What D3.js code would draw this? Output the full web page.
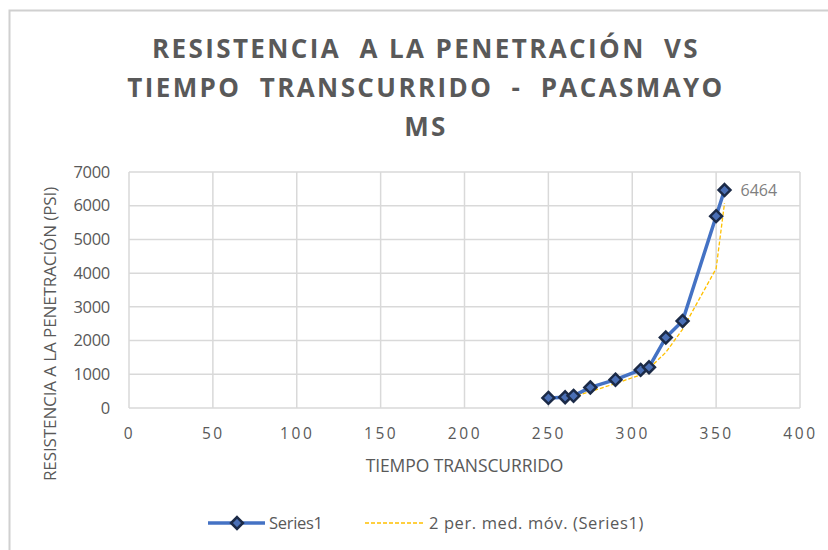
<!DOCTYPE html>
<html>
<head>
<meta charset="utf-8">
<script src="https://cdn.jsdelivr.net/npm/d3@7"></script>
<style>
  body { margin: 0; background: #fff; }
  text { font-family: "Open Sans", "Liberation Sans", sans-serif; }
</style>
</head>
<body>
<div id="chart"></div>
<script>
// Data
let tiempo = [250, 260, 265, 275, 290, 305, 310, 320, 330, 350, 355];
let resistencia = [300, 320, 360, 610, 840, 1130, 1210, 2090, 2580, 5690, 6464];

// 2 period moving average (Excel trendline), starts at second point
let mediaTiempo = [260, 265, 275, 290, 305, 310, 320, 330, 350, 355];
let mediaValor = [310, 340, 485, 725, 985, 1170, 1650, 2335, 4135, 6077];

let xTicks = [0, 50, 100, 150, 200, 250, 300, 350, 400];
let yTicks = [0, 1000, 2000, 3000, 4000, 5000, 6000, 7000];

let titleLines = ["RESISTENCIA  A LA PENETRACIÓN  VS", "TIEMPO  TRANSCURRIDO  -  PACASMAYO", "MS"];

let width = 828;
let height = 550;
let margin = {left: 129, right: 28, top: 172, bottom: 142};

let svg = d3.select('#chart')
            .append('svg')
            .attr('width', width)
            .attr('height', height);

// outer chart border
svg.append("rect")
    .attr("x", 9.5).attr("y", 10.5)
    .attr("width", width + 10).attr("height", height + 10)
    .attr("fill", "none")
    .attr("stroke", "#d0d0d0")
    .attr("stroke-width", 2);

let xScale = d3.scaleLinear()
                .domain([0, 400])
                .range([margin.left, width - margin.right]);

let yScale = d3.scaleLinear()
                .domain([0, 7000])
                .range([height - margin.bottom, margin.top]);

// gridlines
svg.append("g")
    .selectAll("line")
    .data(xTicks)
    .enter()
    .append("line")
    .attr("x1", d => xScale(d)).attr("x2", d => xScale(d))
    .attr("y1", yScale(0)).attr("y2", yScale(7000))
    .attr("stroke", "#d9d9d9")
    .attr("stroke-width", 1.5);

svg.append("g")
    .selectAll("line")
    .data(yTicks)
    .enter()
    .append("line")
    .attr("x1", xScale(0)).attr("x2", xScale(400))
    .attr("y1", d => yScale(d)).attr("y2", d => yScale(d))
    .attr("stroke", "#d9d9d9")
    .attr("stroke-width", 1.5);

// axes (labels only, Excel style)
let xAxis = d3.axisBottom(xScale)
                .tickValues(xTicks)
                .tickFormat(d3.format("d"))
                .tickSize(0)
                .tickPadding(20);

let yAxis = d3.axisLeft(yScale)
                .tickValues(yTicks)
                .tickFormat(d3.format("d"))
                .tickSize(0)
                .tickPadding(19);

let gx = svg.append("g")
    .attr("transform", "translate(0," + yScale(0) + ")")
    .call(xAxis);

let gy = svg.append("g")
    .attr("transform", "translate(" + xScale(0) + ",0)")
    .call(yAxis);

[gx, gy].forEach(g => {
    g.select(".domain").remove();
    g.selectAll("text")
        .attr("fill", "#595959")
        .style("font-family", "'Open Sans', sans-serif");
});
gx.selectAll("text").style("font-size", "15.5px").style("letter-spacing", "2.6px");
gy.selectAll("text").style("font-size", "16.5px").style("letter-spacing", "-0.3px");

// title
svg.append("g")
    .selectAll("text")
    .data(titleLines)
    .enter()
    .append("text")
    .attr("x", 426)
    .attr("y", (d, i) => 58 + i * 39)
    .attr("text-anchor", "middle")
    .attr("fill", "#595959")
    .style("font-size", "26px")
    .style("font-weight", "bold")
    .style("letter-spacing", "2.4px")
    .style("white-space", "pre")
    .text(d => d);

// axis titles
svg.append("text")
    .attr("x", (xScale(0) + xScale(400)) / 2)
    .attr("y", 472)
    .attr("text-anchor", "middle")
    .attr("fill", "#595959")
    .style("font-size", "17.5px")
    .style("letter-spacing", "-0.1px")
    .text("TIEMPO TRANSCURRIDO");

svg.append("text")
    .attr("transform", "translate(56,334) rotate(-90)")
    .attr("text-anchor", "middle")
    .attr("fill", "#595959")
    .style("font-size", "17px")
    .style("letter-spacing", "-0.1px")
    .text("RESISTENCIA A LA PENETRACIÓN (PSI)");

let mediaData = mediaTiempo.map((t, i) => ({x: t, y: mediaValor[i]}));
let seriesData = tiempo.map((t, i) => ({x: t, y: resistencia[i]}));

let line = d3.line().x(d => xScale(d.x)).y(d => yScale(d.y));

// series line
svg.append("path")
    .datum(seriesData)
    .attr("fill", "none")
    .attr("stroke", "#4472C4")
    .attr("stroke-width", 3.5)
    .attr("stroke-linejoin", "round")
    .attr("d", line);

// moving average drawn above the series line
svg.append("path")
    .datum(mediaData)
    .attr("fill", "none")
    .attr("stroke", "#FFC000")
    .attr("stroke-width", 1.3)
    .attr("stroke-dasharray", "4,2")
    .attr("d", line);

let diamond = d3.symbol().type(d3.symbolDiamond2).size(90);

svg.append("g")
    .selectAll("path")
    .data(seriesData)
    .enter()
    .append("path")
    .attr("d", diamond)
    .attr("transform", d => "translate(" + xScale(d.x) + "," + yScale(d.y) + ")")
    .attr("fill", "#4A6FB5")
    .attr("stroke", "#1B2A47")
    .attr("stroke-width", 2.5);

// data label on last point
let last = seriesData[seriesData.length - 1];
svg.append("text")
    .attr("x", xScale(last.x) + 16)
    .attr("y", yScale(last.y) + 6)
    .attr("fill", "#7f7f7f")
    .style("font-size", "16px")
    .text(last.y);

// legend
let legend = svg.append("g");

legend.append("line")
    .attr("x1", 208).attr("x2", 265)
    .attr("y1", 523).attr("y2", 523)
    .attr("stroke", "#4472C4")
    .attr("stroke-width", 3.5);

legend.append("path")
    .attr("d", diamond)
    .attr("transform", "translate(237,523)")
    .attr("fill", "#4A6FB5")
    .attr("stroke", "#1B2A47")
    .attr("stroke-width", 2.5);

legend.append("text")
    .attr("x", 269).attr("y", 529)
    .attr("fill", "#595959")
    .style("font-size", "16.5px")
    .style("letter-spacing", "-0.3px")
    .text("Series1");

legend.append("line")
    .attr("x1", 365).attr("x2", 424)
    .attr("y1", 523).attr("y2", 523)
    .attr("stroke", "#FFC000")
    .attr("stroke-width", 1.3)
    .attr("stroke-dasharray", "4,2");

legend.append("text")
    .attr("x", 429).attr("y", 529)
    .attr("fill", "#595959")
    .style("font-size", "16.5px")
    .style("letter-spacing", "0.6px")
    .text("2 per. med. móv. (Series1)");
</script>
</body>
</html>
